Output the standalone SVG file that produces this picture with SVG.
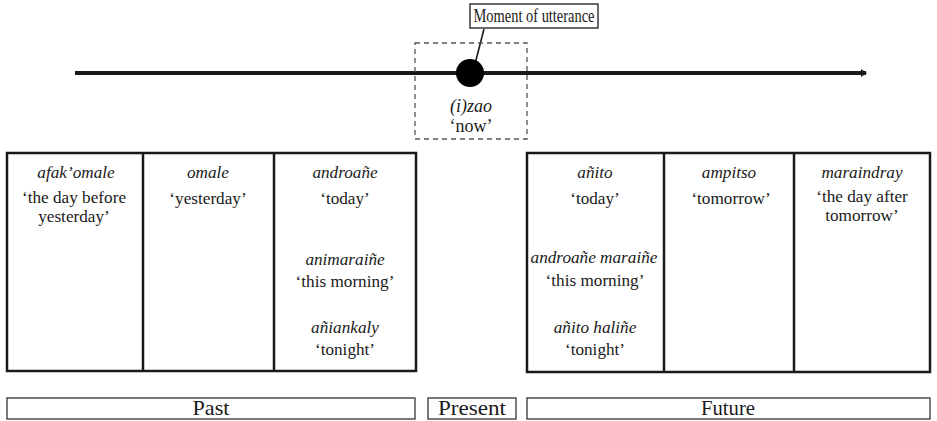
<svg xmlns="http://www.w3.org/2000/svg" width="937" height="421" viewBox="0 0 937 421" font-family="'Liberation Serif','Times New Roman','DejaVu Serif',serif">
<style>
text{font-family:'Liberation Serif','Times New Roman','DejaVu Serif',serif;fill:#1a1a1a;text-anchor:middle}
.t{font-size:17.2px}
.i{font-size:17.2px;font-style:italic}
.box{fill:none;stroke:#1a1a1a;stroke-width:2.5}
.thin{fill:#fff;stroke:#333;stroke-width:1.3}
.lab{font-size:21px}
</style>
<defs>
<marker id="ah" viewBox="0 0 6 8" refX="5" refY="4" markerWidth="6" markerHeight="8" markerUnits="userSpaceOnUse" orient="auto">
<path d="M0,0 L6,4 L0,8 Z" fill="#1a1a1a"/>
</marker>
</defs>
<g id="connectors">
<line x1="75" y1="73" x2="866" y2="73" stroke="#1a1a1a" stroke-width="4" marker-end="url(#ah)"/>
<line x1="484" y1="29" x2="475" y2="64" stroke="#1a1a1a" stroke-width="1.6"/>
</g>
<g id="now">
<rect x="415" y="43" width="112" height="96" fill="none" stroke="#555" stroke-width="1.3" stroke-dasharray="5,4"/>
<circle cx="470" cy="73" r="14" fill="#000"/>
<text class="i" x="471" y="112" style="font-size:18px">(i)zao</text>
<text class="t" x="471" y="132" style="font-size:18px">‘now’</text>
</g>
<g id="moment">
<rect x="470" y="4" width="128" height="24" fill="#fff" stroke="#1a1a1a" stroke-width="1.3"/>
<text x="534" y="22" style="font-size:18px" textLength="121" lengthAdjust="spacingAndGlyphs">Moment of utterance</text>
</g>
<g id="past-table">
<rect class="box" x="7" y="153" width="409" height="218"/>
<line x1="143" y1="153" x2="143" y2="371" stroke="#1a1a1a" stroke-width="2.5"/>
<line x1="274" y1="153" x2="274" y2="371" stroke="#1a1a1a" stroke-width="2.5"/>
</g>
<g id="afakomale">
<text class="i" x="76" y="178">afak’omale</text>
<text class="t" x="74" y="203">‘the day before</text>
<text class="t" x="74" y="222">yesterday’</text>
</g>
<g id="omale">
<text class="i" x="208" y="178">omale</text>
<text class="t" x="208" y="204">‘yesterday’</text>
</g>
<g id="androane">
<text class="i" x="345" y="178">androañe</text>
<text class="t" x="345" y="204">‘today’</text>
<text class="i" x="345" y="265">animaraiñe</text>
<text class="t" x="345" y="287">‘this morning’</text>
<text class="i" x="345" y="333">añiankaly</text>
<text class="t" x="345" y="355">‘tonight’</text>
</g>
<g id="future-table">
<rect class="box" x="527" y="153" width="403" height="219"/>
<line x1="664" y1="153" x2="664" y2="372" stroke="#1a1a1a" stroke-width="2.5"/>
<line x1="794" y1="153" x2="794" y2="372" stroke="#1a1a1a" stroke-width="2.5"/>
</g>
<g id="anito">
<text class="i" x="595" y="178">añito</text>
<text class="t" x="595" y="204">‘today’</text>
<text class="i" x="594" y="263">androañe maraiñe</text>
<text class="t" x="595" y="286">‘this morning’</text>
<text class="i" x="595" y="333">añito haliñe</text>
<text class="t" x="595" y="355">‘tonight’</text>
</g>
<g id="ampitso">
<text class="i" x="729" y="178">ampitso</text>
<text class="t" x="731" y="204">‘tomorrow’</text>
</g>
<g id="maraindray">
<text class="i" x="862" y="178">maraindray</text>
<text class="t" x="862" y="202">‘the day after</text>
<text class="t" x="862" y="221">tomorrow’</text>
</g>
<g id="past">
<rect class="thin" x="7" y="398" width="408" height="21"/>
<text class="lab" x="211" y="415" textLength="37" lengthAdjust="spacingAndGlyphs">Past</text>
</g>
<g id="present">
<rect class="thin" x="428" y="398" width="88" height="21"/>
<text class="lab" x="472" y="415" textLength="68" lengthAdjust="spacingAndGlyphs">Present</text>
</g>
<g id="future">
<rect class="thin" x="527" y="398" width="403" height="21"/>
<text class="lab" x="728" y="415" textLength="54" lengthAdjust="spacingAndGlyphs">Future</text>
</g>
</svg>
